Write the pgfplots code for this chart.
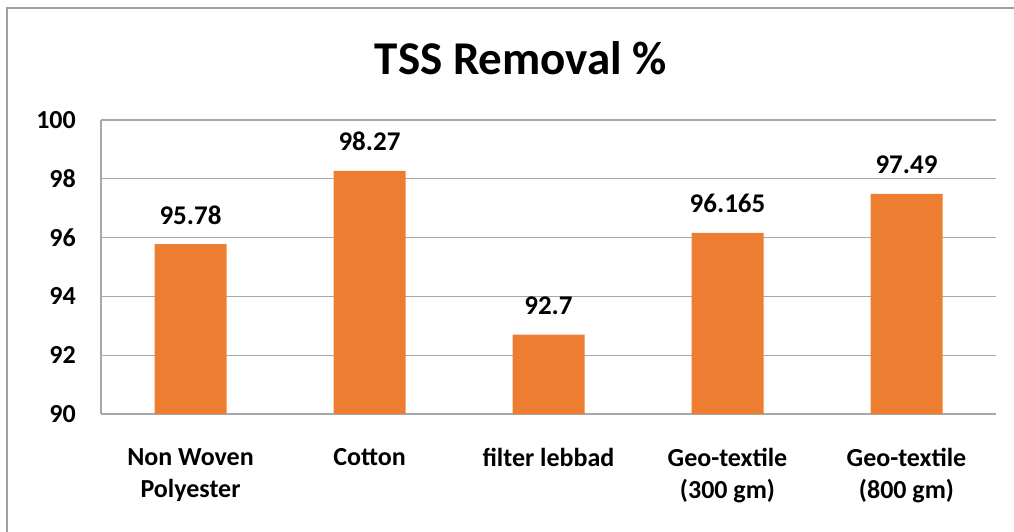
\documentclass[border=0pt]{standalone}
\usepackage{pgfplots}
\pgfplotsset{compat=1.18}
\usepackage{fontspec}
\setmainfont{Carlito}
\definecolor{barorange}{HTML}{ED7D31}
\definecolor{gridgray}{HTML}{A8A8A8}
\definecolor{framegray}{HTML}{A0A0A0}
\begin{document}
\begin{tikzpicture}[x=1pt,y=1pt]
\useasboundingbox (0,0) rectangle (1014,531);
\clip (0,0) rectangle (1014,531);
\draw[framegray, line width=2pt] (7,-10) -- (7,523) -- (1030,523);
\node[font=\fontsize{47}{52}\selectfont\bfseries, anchor=base, inner sep=0pt] at (521,456) {TSS Removal \%};
\begin{axis}[
  at={(101pt,117pt)}, anchor=south west,
  scale only axis, width=895pt, height=294pt,
  xmin=-0.5, xmax=4.5, ymin=90, ymax=100,
  ytick={90,92,94,96,98,100},
  xtick={0,1,2,3,4},
  xticklabels={{Non Woven\\Polyester},{Cotton},{filter lebbad},{Geo-textile\\(300 gm)},{Geo-textile\\(800 gm)}},
  axis x line=bottom, axis y line=left,
  axis line style={gridgray, line width=1.3pt, -},
  ymajorgrids, grid style={gridgray, line width=1.3pt},
  major tick length=0pt,
  /pgf/number format/assume math mode=true,
  yticklabel style={font=\fontsize{26}{32}\selectfont\bfseries, anchor=east, inner sep=0pt, xshift=-25pt},
  xticklabel style={font=\fontsize{26}{32}\selectfont\bfseries, align=center, anchor=north, inner sep=0pt, yshift=-34pt},
  ybar, bar width=72pt,
  point meta=explicit symbolic,
  nodes near coords,
  every node near coord/.append style={font=\fontsize{27}{32}\selectfont\bfseries, anchor=base, inner sep=0pt, yshift=20pt},
  clip=false,
]
\addplot[fill=barorange, draw=none, bar shift=0pt] coordinates {
  (0,95.78) [95.78]
  (1,98.27) [98.27]
  (2,92.7) [92.7]
  (3,96.165) [96.165]
  (4,97.49) [97.49]
};
\end{axis}
\end{tikzpicture}
\end{document}
